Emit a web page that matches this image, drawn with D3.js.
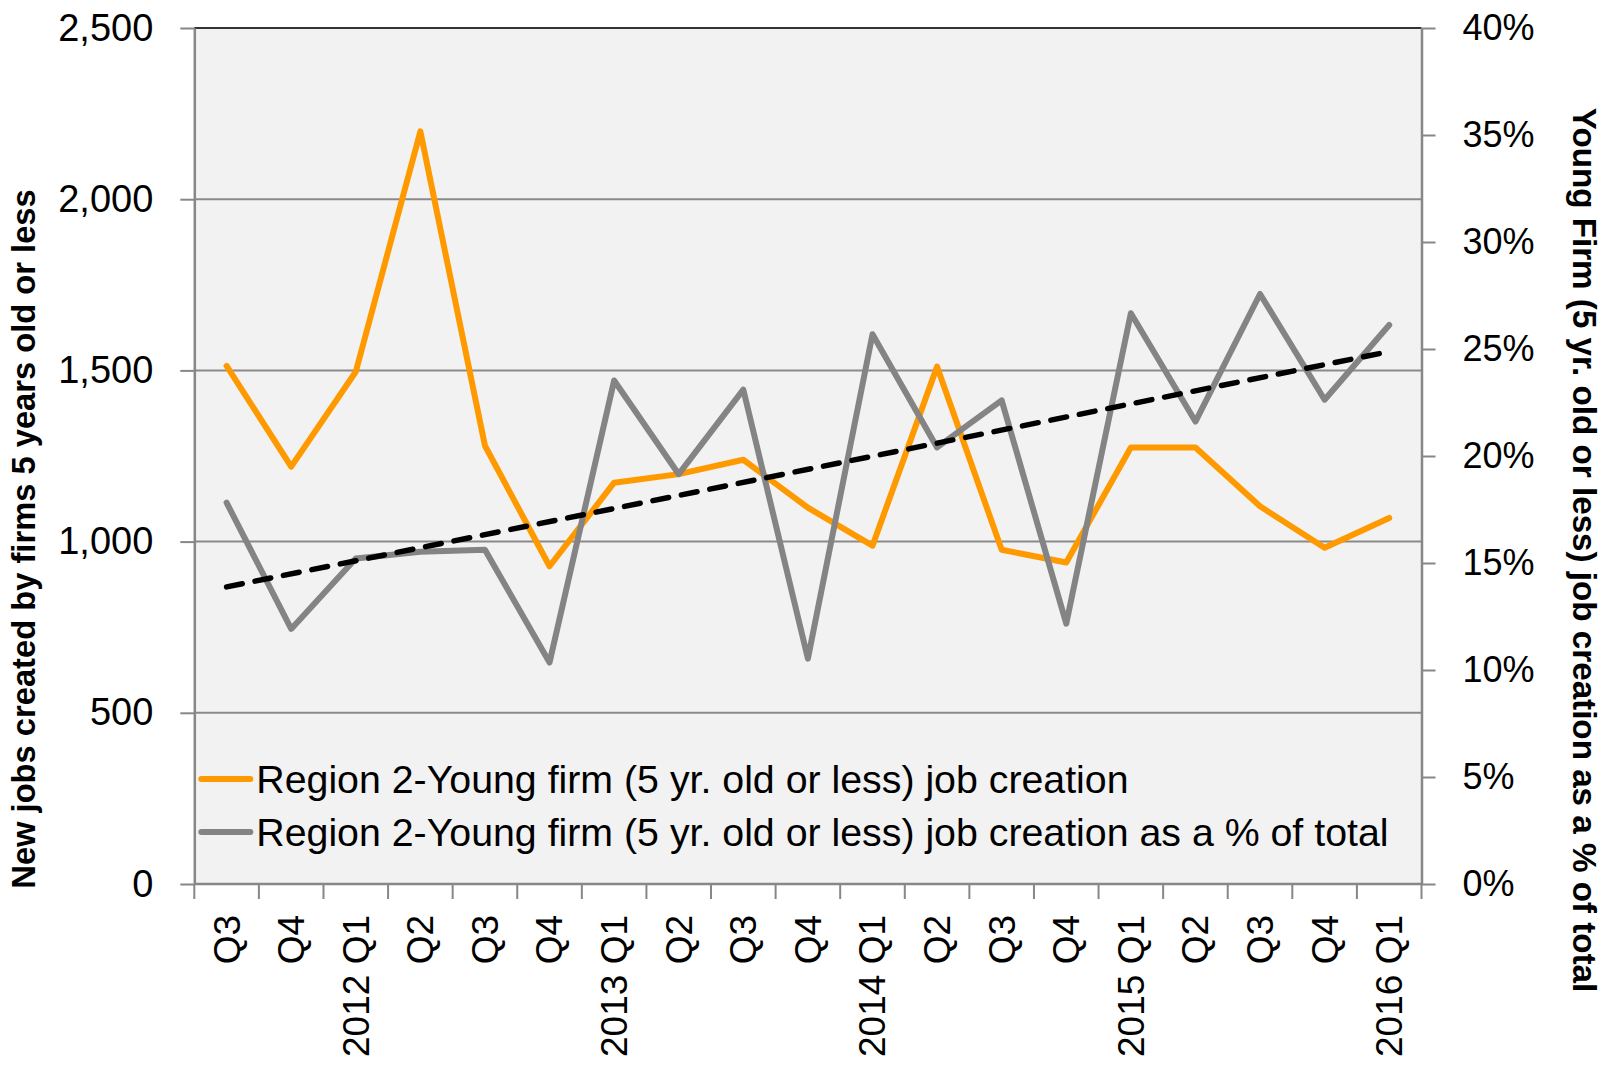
<!DOCTYPE html>
<html>
<head>
<meta charset="utf-8">
<script src="https://cdn.jsdelivr.net/npm/d3@7"></script>
<style>
  body { margin: 0; background: #ffffff; }
  text { font-family: "Liberation Sans", Arial, sans-serif; fill: #000; }
</style>
</head>
<body>
<div class="chart"></div>
<script>
// Young firm job creation, Region 2 - two axes line chart with trend line

// categories (quarters)
var quarters = ["Q3", "Q4", "2012 Q1", "Q2", "Q3", "Q4", "2013 Q1", "Q2", "Q3", "Q4",
                "2014 Q1", "Q2", "Q3", "Q4", "2015 Q1", "Q2", "Q3", "Q4", "2016 Q1"];

// new jobs created by young firms (left axis)
var jobCreation = [1513, 1219, 1496, 2198, 1280, 928, 1172, 1197, 1239, 1099,
                   988, 1511, 976, 939, 1275, 1275, 1103, 982, 1069];

// young firm job creation as share of total (right axis)
var jobShare = [0.1782, 0.1192, 0.1521, 0.1553, 0.1562, 0.1035, 0.2353, 0.1915, 0.2310, 0.1053,
                0.2569, 0.2040, 0.2260, 0.1217, 0.2667, 0.2161, 0.2757, 0.2263, 0.2612];

var leftTicks = [0, 500, 1000, 1500, 2000, 2500];
var rightTicks = [0, 0.05, 0.10, 0.15, 0.20, 0.25, 0.30, 0.35, 0.40];

var seriesNames = ["Region 2-Young firm (5 yr. old or less) job creation",
                   "Region 2-Young firm (5 yr. old or less) job creation as a % of total"];

//Set size and margins for chart
var svgwidth = 1614;
var svgheight = 1066;

var margin = {
    top: 28,
    right: 192.5,
    bottom: 182,
    left: 194.3
};

var width = svgwidth - margin.left - margin.right;
var height = svgheight - margin.top - margin.bottom;

var orange = "#ff9900";
var grey = "#848484";
var axisGrey = "#878787";

var svg = d3.select(".chart")
            .append("svg")
            .attr("width", svgwidth)
            .attr("height", svgheight);

var chartGroup = svg.append("g")
            .attr("transform", `translate(${margin.left}, ${margin.top})`);

//Scales
var xScale = d3.scaleBand()
    .domain(d3.range(quarters.length))
    .range([0, width]);

var yLeft = d3.scaleLinear()
    .domain([0, 2500])
    .range([height, 0]);

var yRight = d3.scaleLinear()
    .domain([0, 0.40])
    .range([height, 0]);

var xCenter = i => xScale(i) + xScale.bandwidth() / 2;

//Plot background
chartGroup.append("rect")
    .attr("width", width)
    .attr("height", height)
    .attr("fill", "#f2f2f2");

//Gridlines
chartGroup.selectAll(".grid")
    .data(leftTicks.slice(1, -1))
    .enter()
    .append("line")
    .attr("x1", 0)
    .attr("x2", width)
    .attr("y1", d => yLeft(d))
    .attr("y2", d => yLeft(d))
    .attr("stroke", "#8a8a8a")
    .attr("stroke-width", 2);

//Top border
chartGroup.append("line")
    .attr("x1", 0)
    .attr("x2", width)
    .attr("y1", yLeft(2500))
    .attr("y2", yLeft(2500))
    .attr("stroke", "#333")
    .attr("stroke-width", 2);

//Left axis
var leftAxis = d3.axisLeft(yLeft)
    .tickValues(leftTicks)
    .tickFormat(d3.format(","))
    .tickSize(14)
    .tickSizeOuter(0)
    .tickPadding(27);

var gLeft = chartGroup.append("g").call(leftAxis);
gLeft.selectAll("text").style("font-size", "38px");

//Right axis
var rightAxis = d3.axisRight(yRight)
    .tickValues(rightTicks)
    .tickFormat(d3.format(".0%"))
    .tickSize(14)
    .tickSizeOuter(0)
    .tickPadding(27);

var gRight = chartGroup.append("g")
    .attr("transform", `translate(${width}, 0)`)
    .call(rightAxis);
gRight.selectAll("text").style("font-size", "36px");

//Bottom axis (labels only, ticks at category boundaries)
var bottomAxis = d3.axisBottom(xScale)
    .tickFormat(i => quarters[i])
    .tickSize(0)
    .tickSizeOuter(0);

var gBottom = chartGroup.append("g")
    .attr("transform", `translate(0, ${height})`)
    .call(bottomAxis);

gBottom.selectAll("text")
    .attr("transform", "rotate(-90)")
    .attr("text-anchor", "end")
    .attr("x", -31)
    .attr("y", 0)
    .attr("dy", "0.35em")
    .style("font-size", "37px");

gBottom.selectAll(".boundary")
    .data(d3.range(quarters.length + 1))
    .enter()
    .append("line")
    .attr("x1", i => i * xScale.step())
    .attr("x2", i => i * xScale.step())
    .attr("y1", 0)
    .attr("y2", 15)
    .attr("stroke", axisGrey)
    .attr("stroke-width", 2);

[gLeft, gRight, gBottom].forEach(function(g) {
    g.selectAll("path.domain").attr("stroke", axisGrey).attr("stroke-width", 2.5);
    g.selectAll(".tick line").attr("stroke", axisGrey).attr("stroke-width", 2);
});
gBottom.select("path.domain").attr("d", `M0,0H${width}`);

//Lines
var jobsLine = d3.line()
    .x((d, i) => xCenter(i))
    .y(d => yLeft(d));

var shareLine = d3.line()
    .x((d, i) => xCenter(i))
    .y(d => yRight(d));

chartGroup.append("path")
    .datum(jobCreation)
    .attr("d", jobsLine)
    .attr("fill", "none")
    .attr("stroke", orange)
    .attr("stroke-width", 6)
    .attr("stroke-linejoin", "round")
    .attr("stroke-linecap", "round");

chartGroup.append("path")
    .datum(jobShare)
    .attr("d", shareLine)
    .attr("fill", "none")
    .attr("stroke", grey)
    .attr("stroke-width", 6)
    .attr("stroke-linejoin", "round")
    .attr("stroke-linecap", "round");

//Linear trend of the share series (least squares)
var n = jobShare.length;
var meanX = d3.mean(d3.range(n));
var meanY = d3.mean(jobShare);
var slope = d3.sum(jobShare, (d, i) => (i - meanX) * (d - meanY)) /
            d3.sum(d3.range(n), i => (i - meanX) * (i - meanX));
var intercept = meanY - slope * meanX;

chartGroup.append("path")
    .datum([0, n - 1])
    .attr("d", d3.line().x(i => xCenter(i)).y(i => yRight(intercept + slope * i)))
    .attr("fill", "none")
    .attr("stroke", "#000")
    .attr("stroke-width", 5.5)
    .attr("stroke-linecap", "round")
    .attr("stroke-dasharray", "16,13");

//Legend
var legendRows = chartGroup.append("g")
    .selectAll("g")
    .data(seriesNames)
    .enter()
    .append("g")
    .attr("transform", (d, i) => `translate(0, ${751 + i * 53})`);

legendRows.append("line")
    .attr("x1", 7)
    .attr("x2", 56)
    .attr("stroke", (d, i) => i === 0 ? orange : grey)
    .attr("stroke-width", 6)
    .attr("stroke-linecap", "round");

legendRows.append("text")
    .attr("x", 62)
    .attr("dy", "0.35em")
    .style("font-size", "39.3px")
    .text(d => d);

//Axis titles
svg.append("text")
    .attr("transform", "translate(35, 539) rotate(-90)")
    .attr("text-anchor", "middle")
    .style("font-size", "32.7px")
    .style("font-weight", "bold")
    .text("New jobs created by firms 5 years old or less");

svg.append("text")
    .attr("transform", "translate(1573, 550) rotate(90)")
    .attr("text-anchor", "middle")
    .style("font-size", "33.2px")
    .style("font-weight", "bold")
    .text("Young Firm (5 yr. old or less) job creation as a % of total");
</script>
</body>
</html>
